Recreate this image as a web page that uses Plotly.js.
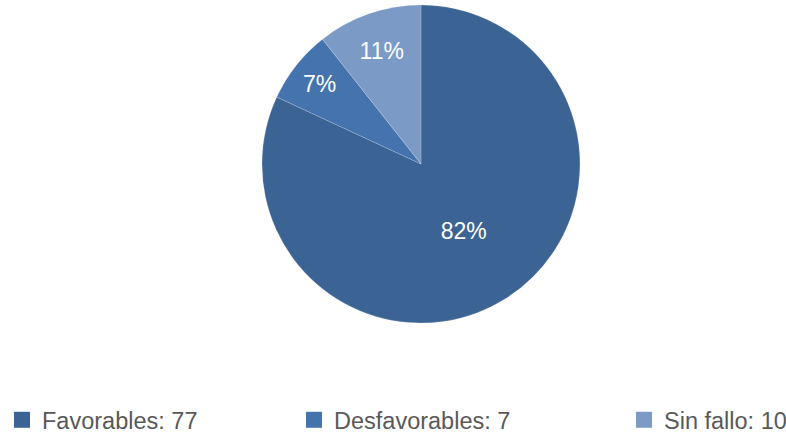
<!DOCTYPE html>
<html>
<head>
<meta charset="utf-8">
<script src="https://cdn.plot.ly/plotly-3.0.1.min.js"></script>
<style>html,body{margin:0;padding:0;background:#fff}#chart{width:786px;height:434px}</style>
</head>
<body>
<div id="chart"></div>
<script>
const categories = ["Favorables", "Desfavorables", "Sin fallo"];
const values = [77, 7, 10];
const colors = ["#3B6394", "#4473AE", "#7B9AC6"];
const legendLabels = categories.map((c, i) => c + ": " + values[i]);

const FONT = "'Liberation Sans', Arial, sans-serif";

const pie = {
  type: "pie",
  labels: categories,
  values: values,
  sort: false,
  direction: "clockwise",
  rotation: 0,
  showlegend: false,
  marker: {colors: colors, line: {color: "rgba(255,255,255,0.35)", width: 0.5}},
  texttemplate: "%{percent:.0%}",
  textposition: "inside",
  insidetextorientation: "horizontal",
  textfont: {family: FONT, size: 23, color: "#ffffff"},
  hoverinfo: "label+percent"
};

// legend entries (one legend per category so each can be placed like the reference)
const legendNames = ["legend", "legend2", "legend3"];
const legendX = [2, 294, 624];
const legendTraces = categories.map((c, i) => ({
  type: "scatter", mode: "markers",
  x: [null], y: [null],
  name: legendLabels[i],
  legend: legendNames[i],
  showlegend: true,
  marker: {symbol: "square", size: 16, color: colors[i]},
  hoverinfo: "skip"
}));

const layout = {
  width: 786, height: 434,
  margin: {l: 56, r: 0, t: 5, b: 111},
  paper_bgcolor: "#ffffff",
  plot_bgcolor: "rgba(0,0,0,0)",
  font: {family: FONT, color: "#595959"},
  xaxis: {visible: false, showgrid: false, zeroline: false},
  yaxis: {visible: false, showgrid: false, zeroline: false},
  showlegend: true
};
legendNames.forEach((ln, i) => {
  layout[ln] = {
    orientation: "h",
    xref: "container", yref: "container",
    x: legendX[i] / 786, y: 14 / 434,
    xanchor: "left", yanchor: "middle",
    font: {family: FONT, size: 23.5, color: "#595959"},
    itemwidth: 30,
    bgcolor: "rgba(0,0,0,0)"
  };
});

Plotly.newPlot("chart", [pie].concat(legendTraces), layout, {displayModeBar: false, staticPlot: true});
</script>
</body>
</html>
